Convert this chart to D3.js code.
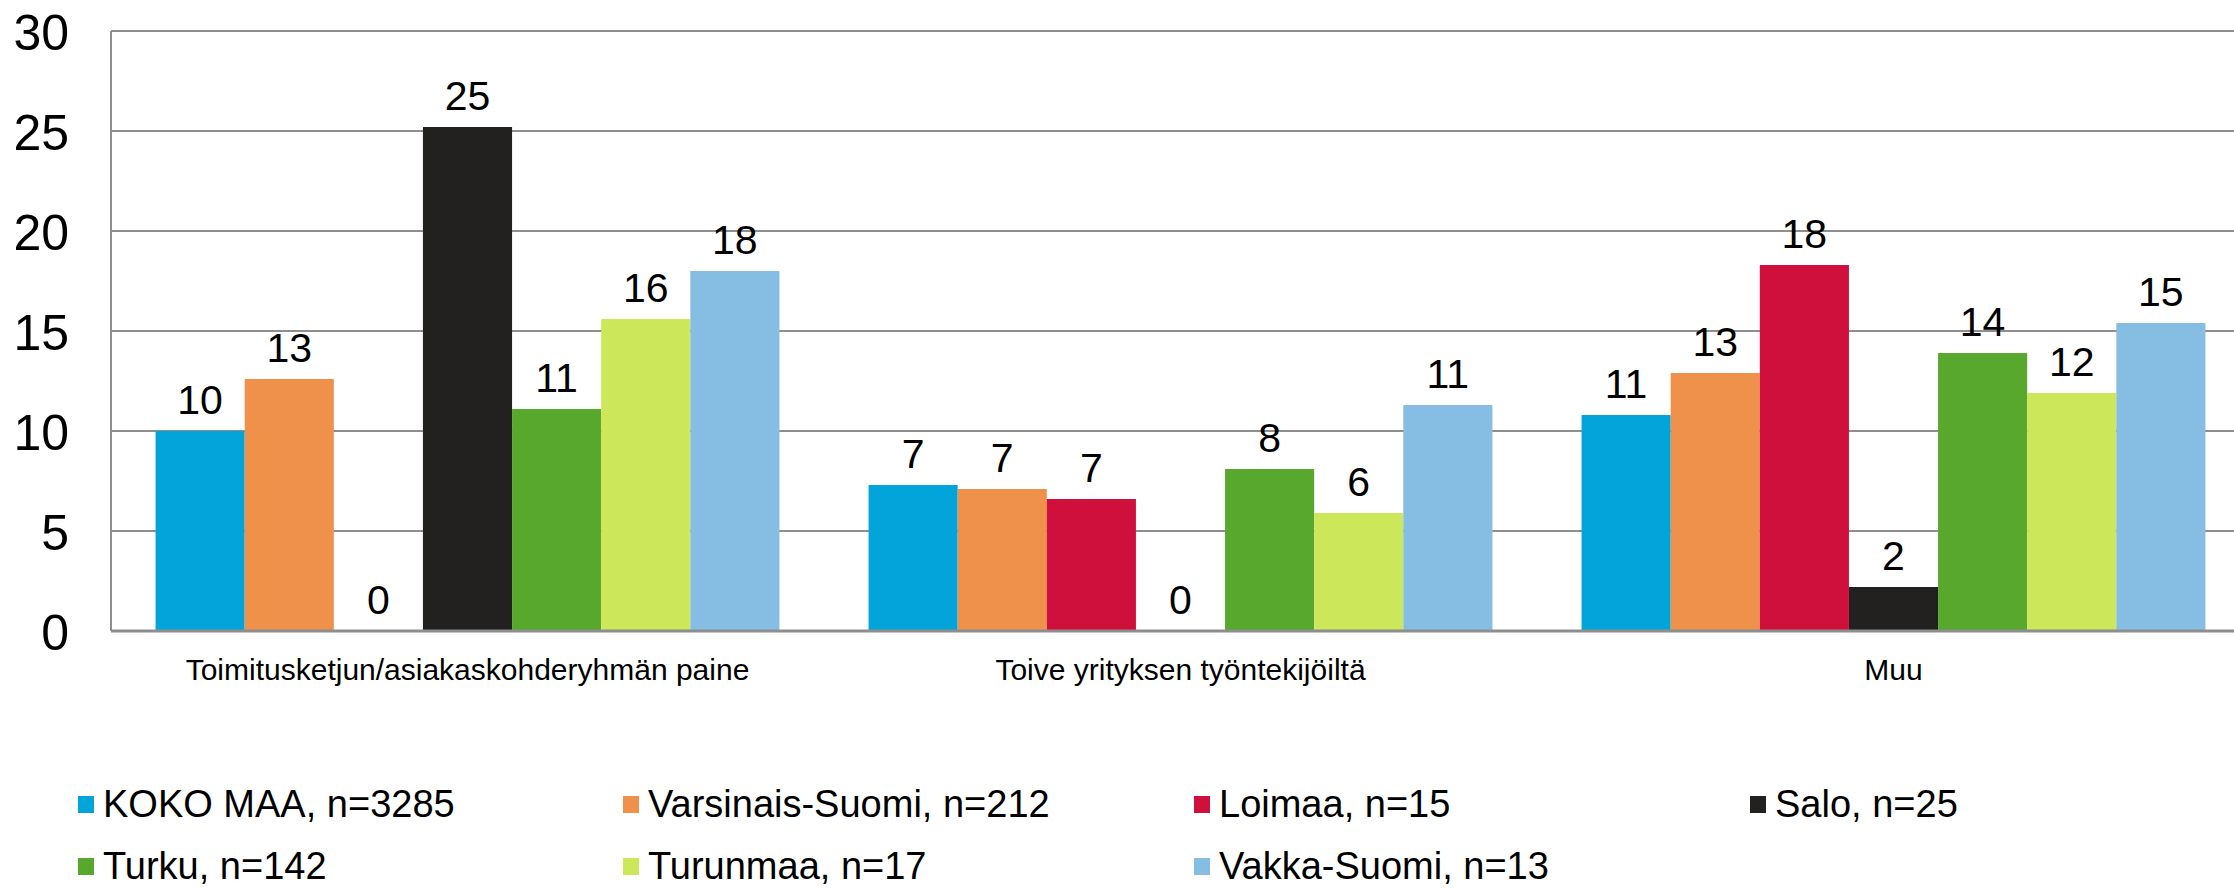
<!DOCTYPE html>
<html lang="fi">
<head>
<meta charset="UTF-8">
<title>Syyt</title>
<script src="https://cdn.jsdelivr.net/npm/d3@7"></script>
<style>
  body { margin: 0; background: #fff; }
  text { font-family: "Liberation Sans", Arial, sans-serif; fill: #000; }
</style>
</head>
<body>
<script>
// data
var categories = ["Toimitusketjun/asiakaskohderyhmän paine", "Toive yrityksen työntekijöiltä", "Muu"];
var seriesNames = ["KOKO MAA, n=3285", "Varsinais-Suomi, n=212", "Loimaa, n=15", "Salo, n=25",
                   "Turku, n=142", "Turunmaa, n=17", "Vakka-Suomi, n=13"];
var kokoMaa        = [10.0, 7.3, 10.8];
var varsinaisSuomi = [12.6, 7.1, 12.9];
var loimaa         = [0, 6.6, 18.3];
var salo           = [25.2, 0, 2.2];
var turku          = [11.1, 8.1, 13.9];
var turunmaa       = [15.6, 5.9, 11.9];
var vakkaSuomi     = [18.0, 11.3, 15.4];
var yTicks = [0, 5, 10, 15, 20, 25, 30];

var seriesValues = [kokoMaa, varsinaisSuomi, loimaa, salo, turku, turunmaa, vakkaSuomi];
var colors = ["#03a4da", "#f0914b", "#d0103c", "#222120", "#58a82e", "#cde75a", "#86bde2"];

var W = 2234, H = 890;
var plot = {left: 111, top: 31, bottom: 631, right: 2250};

var svg = d3.select("body").append("svg")
    .attr("width", W)
    .attr("height", H);

var x0 = d3.scaleBand()
    .domain(categories)
    .range([plot.left, plot.right])
    .paddingInner(0)
    .paddingOuter(0);

// 8 slots per category, bars take the middle 7
var x1 = d3.scaleBand()
    .domain(d3.range(seriesNames.length))
    .range([x0.bandwidth() / 16, x0.bandwidth() * 15 / 16])
    .paddingInner(0)
    .paddingOuter(0);

var y = d3.scaleLinear()
    .domain([0, 30])
    .range([plot.bottom, plot.top]);

// gridlines
svg.append("g").selectAll("line")
    .data(yTicks.filter(function (d) { return d > 0; }))
    .enter().append("line")
    .attr("x1", plot.left).attr("x2", W)
    .attr("y1", function (d) { return y(d); })
    .attr("y2", function (d) { return y(d); })
    .attr("stroke", "#8e8e8e")
    .attr("stroke-width", 2);

// y axis labels
var axisY = d3.axisLeft(y).tickValues(yTicks).tickSize(0).tickPadding(0);
var gy = svg.append("g")
    .attr("transform", "translate(69,0)")
    .call(axisY);
gy.select(".domain").remove();
gy.selectAll("text")
    .attr("font-size", "50px")
    .attr("font-family", "Liberation Sans, Arial, sans-serif")
    .attr("fill", "#000")
    .attr("dy", "0.36em");

// bars
var groups = svg.append("g").selectAll("g")
    .data(categories)
    .enter().append("g")
    .attr("transform", function (d) { return "translate(" + x0(d) + ",0)"; });

groups.selectAll("rect")
    .data(function (d, ci) {
        return seriesValues.map(function (vals, si) { return {s: si, v: vals[ci]}; });
    })
    .enter().append("rect")
    .attr("x", function (d) { return x1(d.s); })
    .attr("width", x1.bandwidth())
    .attr("y", function (d) { return y(d.v); })
    .attr("height", function (d) { return y(0) - y(d.v); })
    .attr("fill", function (d) { return colors[d.s]; });

groups.selectAll("text")
    .data(function (d, ci) {
        return seriesValues.map(function (vals, si) { return {s: si, v: vals[ci]}; });
    })
    .enter().append("text")
    .attr("x", function (d) { return x1(d.s) + x1.bandwidth() / 2; })
    .attr("y", function (d) { return y(d.v) - 17; })
    .attr("text-anchor", "middle")
    .attr("font-size", "41px")
    .text(function (d) { return d3.format(".0f")(d.v); });

// left axis line and baseline
svg.append("line")
    .attr("x1", plot.left).attr("x2", plot.left)
    .attr("y1", plot.top).attr("y2", plot.bottom)
    .attr("stroke", "#8e8e8e").attr("stroke-width", 2);
svg.append("line")
    .attr("x1", plot.left).attr("x2", W)
    .attr("y1", y(0)).attr("y2", y(0))
    .attr("stroke", "#8e8e8e").attr("stroke-width", 3);

// category labels
var axisX = d3.axisBottom(x0).tickSize(0).tickPadding(0);
var gx = svg.append("g")
    .attr("transform", "translate(0," + (plot.bottom + 49) + ")")
    .call(axisX);
gx.select(".domain").remove();
gx.selectAll("text")
    .attr("font-size", "30px")
    .attr("font-family", "Liberation Sans, Arial, sans-serif")
    .attr("fill", "#000")
    .attr("dy", 0);

// legend
var legX = [78, 623, 1194, 1750];
var legY = [804, 866];
var legend = svg.append("g").selectAll("g")
    .data(seriesNames)
    .enter().append("g")
    .attr("transform", function (d, i) {
        return "translate(" + legX[i % 4] + "," + legY[Math.floor(i / 4)] + ")";
    });
legend.append("rect")
    .attr("x", 0).attr("y", -8)
    .attr("width", 16).attr("height", 17)
    .attr("fill", function (d, i) { return colors[i]; });
legend.append("text")
    .attr("x", 25).attr("y", 0)
    .attr("dy", "0.35em")
    .attr("font-size", "38px")
    .text(function (d) { return d; });
</script>
</body>
</html>
